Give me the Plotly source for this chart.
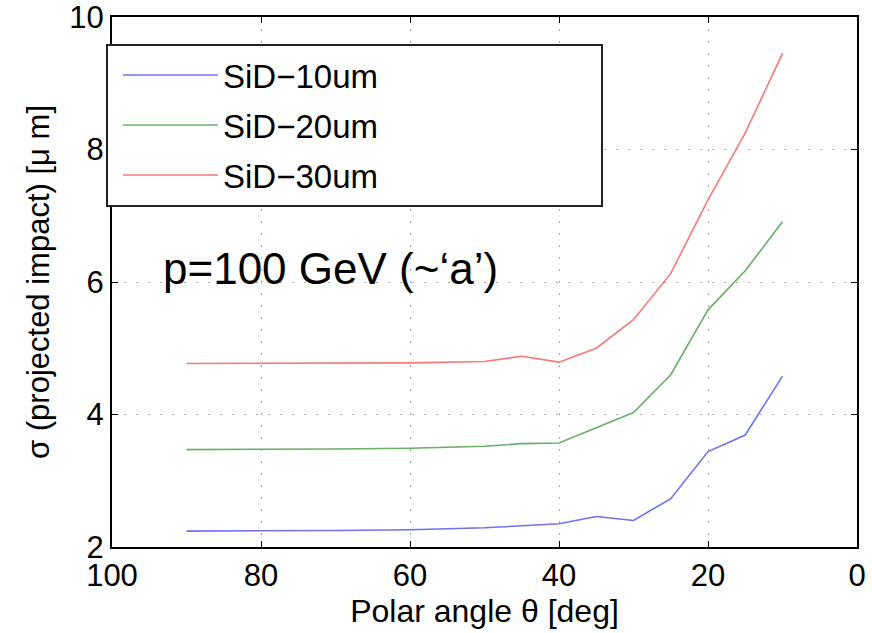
import plotly.graph_objects as go

angle = [90, 80, 70, 60, 50, 45, 40, 35, 30, 25, 20, 15, 10]
sid10 = [2.24, 2.24, 2.25, 2.26, 2.29, 2.32, 2.35, 2.46, 2.40, 2.73, 3.44, 3.69, 4.58]
sid20 = [3.47, 3.47, 3.48, 3.49, 3.52, 3.56, 3.57, 3.80, 4.03, 4.60, 5.58, 6.17, 6.91]
sid30 = [4.77, 4.77, 4.77, 4.78, 4.80, 4.88, 4.79, 5.00, 5.43, 6.13, 7.24, 8.25, 9.45]
names = ["SiD\u221210um", "SiD\u221220um", "SiD\u221230um"]
colors = ["#7070f8", "#68b068", "#f87878"]
series = [sid10, sid20, sid30]

FONT = "Liberation Sans, Arial, Helvetica, sans-serif"
L, R, T, B = 112, 15, 17, 86
W, H = 872, 633
pw, ph = W - L - R, H - T - B

def px(xp):
    return (xp - L) / pw

def py(yp):
    return (H - B - yp) / ph

fig = go.Figure()
legs = ["legend2", "legend3", "legend4"]
leg_y = [75, 125, 175]
for n, c, s, lg in zip(names, colors, series, legs):
    fig.add_trace(go.Scatter(x=angle, y=s, mode="lines", name=n,
                             line=dict(color=c, width=1.6), legend=lg))

legend_style = dict(x=px(118), xanchor="left", yanchor="middle",
                    bgcolor="rgba(0,0,0,0)", borderwidth=0,
                    font=dict(family=FONT, size=33, color="black"),
                    itemwidth=95, tracegroupgap=0)
layout_legends = {"legend": dict(visible=False)}
for lg, yy in zip(legs, leg_y):
    layout_legends[lg] = dict(legend_style, y=py(yy))

axis_common = dict(showline=True, linecolor="black", linewidth=2, mirror="ticks",
                   ticks="inside", ticklen=6, tickcolor="black", tickwidth=1,
                   showgrid=True, gridcolor="#a8a8a8", griddash="2px,10px", gridwidth=1,
                   zeroline=False, automargin=False, ticklabeloverflow="allow",
                   tickfont=dict(family=FONT, size=31, color="black"))

fig.update_layout(
    width=W, height=H,
    margin=dict(l=L, r=R, t=T, b=B, autoexpand=False),
    paper_bgcolor="white", plot_bgcolor="white",
    xaxis=dict(axis_common, range=[100, 0], tickvals=[100, 80, 60, 40, 20, 0],
               title=dict(text="Polar angle \u03b8 [deg]", font=dict(family=FONT, size=32, color="black"),
                          standoff=6)),
    yaxis=dict(axis_common, range=[2, 10], tickvals=[2, 4, 6, 8, 10],
               title=dict(text="\u03c3 (projected impact) [\u03bc m]", font=dict(family=FONT, size=31, color="black"),
                          standoff=10)),
    shapes=[dict(type="rect", xref="paper", yref="paper",
                 x0=px(107), x1=px(602), y0=py(206), y1=py(45),
                 line=dict(color="#222222", width=2), fillcolor="white", layer="above")],
    annotations=[dict(text="p=100 GeV (~\u2018a\u2019)", xref="paper", yref="paper",
                      x=px(161), y=py(268), xanchor="left", yanchor="middle",
                      showarrow=False, font=dict(family=FONT, size=44, color="black"))],
    **layout_legends,
)

fig.write_html("out.html")
